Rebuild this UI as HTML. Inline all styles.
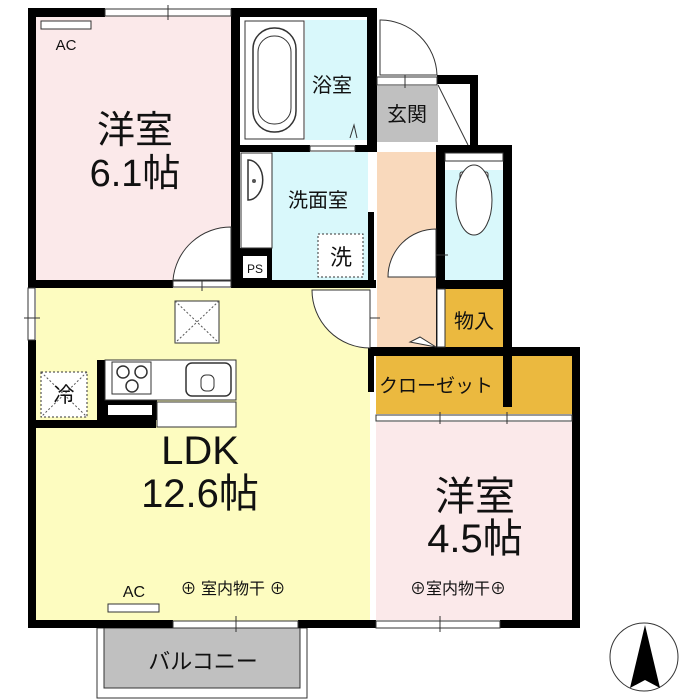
<!DOCTYPE html>
<html><head><meta charset="utf-8"><style>
html,body{margin:0;padding:0;background:#fff}
svg{display:block}
text{font-family:"Liberation Sans","Noto Sans CJK JP",sans-serif;fill:#111}
</style></head><body>
<svg width="700" height="700" viewBox="0 0 700 700" xmlns="http://www.w3.org/2000/svg">
<!-- room fills -->
<rect x="36" y="16" width="196" height="265" fill="#fbe9ea"/>
<rect x="36" y="288" width="334" height="333" fill="#fdfcc0"/>
<rect x="240" y="16" width="130" height="130" fill="#fff"/>
<rect x="305" y="20" width="63" height="120" fill="#d9f8fb"/>
<rect x="272" y="152" width="96" height="128" fill="#d9f8fb"/>
<rect x="377" y="86" width="61" height="56" fill="#c0c0c0"/>
<rect x="377" y="152" width="59" height="195" fill="#f9d9bc"/>
<rect x="445" y="170" width="58" height="110" fill="#d9f8fb"/>
<rect x="445" y="289" width="58" height="58" fill="#ebb93f"/>
<rect x="376" y="356" width="196" height="58" fill="#ebb93f"/>
<rect x="376" y="422" width="196" height="198" fill="#fbe9ea"/>
<!-- balcony -->
<rect x="97" y="628" width="210" height="70" fill="#fff" stroke="#333" stroke-width="1"/>
<rect x="104" y="628" width="196" height="60" fill="#c0c0c0" stroke="#333" stroke-width="1"/>

<g fill="#000">
<!-- outer walls -->
<rect x="28" y="8" width="8" height="280"/>
<rect x="28" y="340" width="8" height="288"/>
<rect x="28" y="8" width="77" height="9"/>
<rect x="231" y="8" width="146" height="9"/>
<rect x="231" y="8" width="9" height="280"/>
<rect x="36" y="280" width="137" height="8"/>
<rect x="231" y="280" width="145" height="8"/>
<rect x="367" y="8" width="10" height="144"/>
<rect x="240" y="145" width="70" height="7"/>
<rect x="355" y="145" width="22" height="7"/>
<rect x="437" y="75" width="41" height="9"/>
<rect x="470" y="75" width="8" height="78"/>
<rect x="436" y="145" width="76" height="8"/>
<rect x="436" y="145" width="9" height="135"/>
<rect x="503" y="145" width="9" height="210"/>
<rect x="436" y="280" width="76" height="9"/>
<rect x="436" y="280" width="9" height="70"/>
<rect x="368" y="347" width="212" height="9"/>
<rect x="572" y="347" width="8" height="281"/>
<rect x="503" y="347" width="9" height="60"/>
<rect x="368" y="347" width="6" height="45"/>
<rect x="28" y="620" width="145" height="8"/>
<rect x="298" y="620" width="78" height="8"/>
<rect x="500" y="620" width="80" height="8"/>
<rect x="240" y="248" width="32" height="33"/>
<rect x="368" y="212" width="6" height="68"/>
<!-- kitchen -->
<rect x="97" y="360" width="8" height="68"/>
<rect x="36" y="420" width="120" height="8"/>
<rect x="105" y="400" width="52" height="20"/>
</g>
<!-- windows -->
<g fill="#fff" stroke="#333" stroke-width="1">
<rect x="105" y="9" width="126" height="7"/>
<rect x="28" y="288" width="7" height="52"/>
<rect x="173" y="621" width="125" height="7"/>
<rect x="376" y="621" width="124" height="7"/>
<rect x="376" y="415" width="196" height="6"/>
<rect x="173" y="281" width="58" height="6"/>
<rect x="377" y="77" width="60" height="8"/>
<rect x="310" y="146" width="45" height="5"/>
</g>
<g stroke="#333" stroke-width="1">
<line x1="168" y1="5" x2="168" y2="20"/><line x1="24" y1="318" x2="40" y2="318"/>
<line x1="236" y1="616" x2="236" y2="632"/><line x1="440" y1="616" x2="440" y2="632"/>
<line x1="440" y1="412" x2="440" y2="424"/><line x1="507" y1="412" x2="507" y2="424"/>
<line x1="202" y1="277" x2="202" y2="291"/><line x1="405" y1="72" x2="405" y2="88"/>
<line x1="366" y1="318" x2="380" y2="318"/><line x1="430" y1="255" x2="448" y2="255"/>
</g>
<!-- AC -->
<rect x="41" y="21" width="50" height="8" fill="#fff" stroke="#333"/>
<rect x="108" y="604" width="51" height="8" fill="#fff" stroke="#333"/>
<!-- doors -->
<path d="M231 227 L231 280 L173 280 A58 58 0 0 1 231 227 Z" fill="#fff" stroke="#333"/>
<path d="M370 290 L312 290 A58 58 0 0 0 370 348 Z" fill="#fff" stroke="#333"/>
<path d="M436 229 L436 277 L388 277 A48 48 0 0 1 436 229 Z" fill="#fff" stroke="#333"/>
<path d="M380 20 L380 75 L437 75 A57 57 0 0 0 380 20 Z" fill="#fff" stroke="#333"/>
<path d="M438 85 L470 85 L470 145 L457 145 Z" fill="#fff"/>
<line x1="438" y1="85" x2="468" y2="145" stroke="#333"/>
<rect x="445" y="153" width="58" height="8" fill="#fff" stroke="#333"/>
<rect x="437" y="289" width="8" height="58" fill="#fff" stroke="#333"/>
<path d="M436 347 L410 342 L420 337 Z" fill="#fff" stroke="#333"/>
<!-- bath -->
<rect x="245" y="21" width="59" height="118" fill="#fff" stroke="#333"/>
<rect x="253" y="28" width="43" height="104" rx="21" fill="#fff" stroke="#333" stroke-width="1.5"/>
<rect x="258" y="36" width="33" height="88" rx="16" fill="none" stroke="#333"/>
<path d="M350 138 L354 125 L357 138" fill="none" stroke="#333"/>
<!-- washroom sink -->
<rect x="241" y="153" width="31" height="95" fill="#fff" stroke="#333"/>
<path d="M248 160 A14 19 0 1 1 248 200 Z" fill="#fff" stroke="#333" stroke-width="1.5"/>
<circle cx="254" cy="181" r="2" fill="#555"/>
<rect x="243" y="256" width="24" height="22" fill="#fff"/>
<text x="255" y="273" font-size="12" text-anchor="middle">PS</text>
<rect x="318" y="234" width="45" height="43" fill="#fff" stroke="#333" stroke-dasharray="2,2"/>
<text x="341" y="265" font-size="22" text-anchor="middle">洗</text>
<!-- toilet -->
<rect x="460" y="172" width="28" height="8" rx="2" fill="#fff" stroke="#333"/>
<ellipse cx="474" cy="200" rx="18" ry="35" fill="#fff" stroke="#333"/>
<!-- kitchen -->
<rect x="105" y="360" width="131" height="40" fill="#fff" stroke="#333"/>
<rect x="112" y="362" width="39" height="32" fill="#fff" stroke="#333"/>
<circle cx="123" cy="372" r="6" fill="none" stroke="#333" stroke-width="1.5"/>
<circle cx="141" cy="372" r="6" fill="none" stroke="#333" stroke-width="1.5"/>
<circle cx="132" cy="386" r="6" fill="none" stroke="#333" stroke-width="1.5"/>
<rect x="186" y="363" width="45" height="33" rx="6" fill="#fff" stroke="#333" stroke-width="1.5"/>
<rect x="201" y="375" width="13" height="16" rx="5" fill="none" stroke="#333"/>
<rect x="108" y="405" width="44" height="10" fill="#fff"/>
<rect x="157" y="402" width="79" height="25" fill="#fff" stroke="#333"/>
<rect x="41" y="372" width="46" height="45" fill="#fff" stroke="#333" stroke-dasharray="2,2"/>
<line x1="41" y1="372" x2="87" y2="417" stroke="#555" stroke-dasharray="2,2"/>
<line x1="87" y1="372" x2="41" y2="417" stroke="#555" stroke-dasharray="2,2"/>
<text x="64" y="402" font-size="21" text-anchor="middle">冷</text>
<rect x="175" y="301" width="44" height="42" fill="#fff" stroke="#333"/>
<line x1="175" y1="301" x2="219" y2="343" stroke="#555" stroke-dasharray="2,2"/>
<line x1="219" y1="301" x2="175" y2="343" stroke="#555" stroke-dasharray="2,2"/>
<!-- labels -->
<text x="66" y="50" font-size="15" text-anchor="middle">AC</text>
<text x="135" y="143" font-size="38" text-anchor="middle">洋室</text>
<text x="135" y="186" font-size="38" text-anchor="middle">6.1帖</text>
<text x="332" y="92" font-size="20" text-anchor="middle">浴室</text>
<text x="318" y="207" font-size="20" text-anchor="middle">洗面室</text>
<text x="407" y="121" font-size="20" text-anchor="middle">玄関</text>
<text x="474" y="328" font-size="20" text-anchor="middle">物入</text>
<text x="436" y="392" font-size="19" text-anchor="middle">クローゼット</text>
<text x="200" y="464" font-size="40" text-anchor="middle">LDK</text>
<text x="200" y="507" font-size="40" text-anchor="middle">12.6帖</text>
<text x="134" y="597" font-size="16" text-anchor="middle">AC</text>
<text x="233" y="594" font-size="16" text-anchor="middle">⊕ 室内物干 ⊕</text>
<text x="475" y="510" font-size="40" text-anchor="middle">洋室</text>
<text x="475" y="552" font-size="40" text-anchor="middle">4.5帖</text>
<text x="458" y="594" font-size="16" text-anchor="middle">⊕室内物干⊕</text>
<text x="203" y="669" font-size="22" text-anchor="middle">バルコニー</text>
<!-- north -->
<circle cx="644" cy="657" r="34" fill="#fff" stroke="#333"/>
<path d="M645 625 L630 688 L645 680 L660 688 Z" fill="#000"/>
</svg>
</body></html>
